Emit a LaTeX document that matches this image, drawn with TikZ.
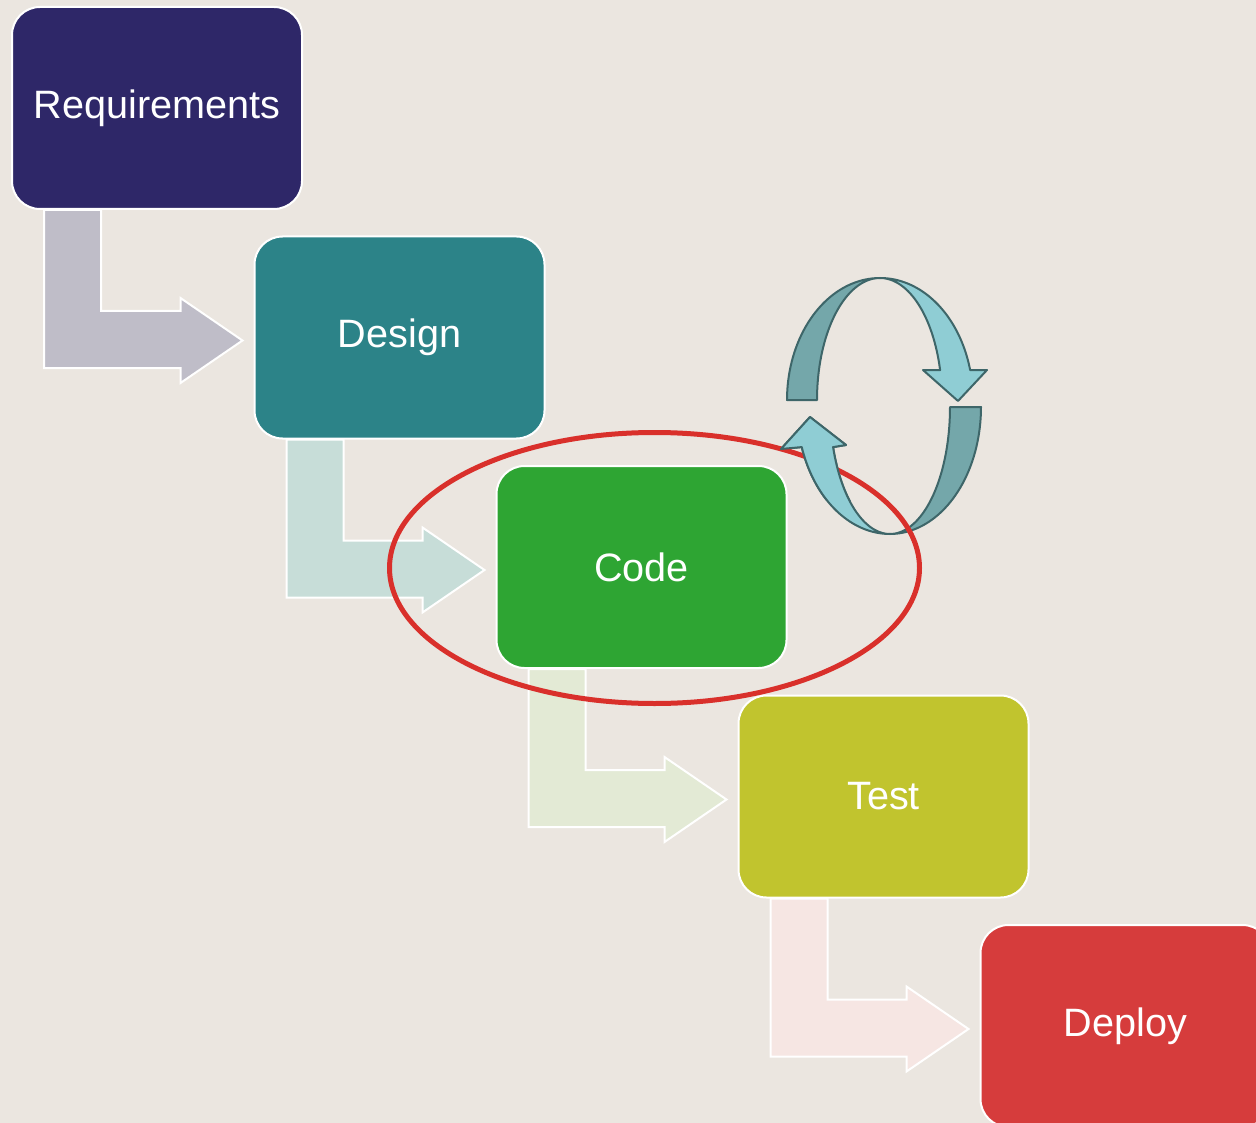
\documentclass[tikz,border=0pt]{standalone}
\usepackage{fontspec}
\setmainfont{Liberation Sans}
\usetikzlibrary{calc}
\definecolor{paper}{HTML}{EBE6E0}
\definecolor{reqc}{HTML}{2E2768}
\definecolor{desc}{HTML}{2C8388}
\definecolor{codec}{HTML}{2EA533}
\definecolor{testc}{HTML}{C1C42E}
\definecolor{depc}{HTML}{D63C3C}
\definecolor{flowA}{HTML}{BFBDC8}
\definecolor{flowB}{HTML}{C7DDD8}
\definecolor{flowC}{HTML}{E3EAD5}
\definecolor{flowD}{HTML}{F6E6E3}
\definecolor{ringedge}{HTML}{3E6669}
\definecolor{ringdark}{HTML}{74A7AA}
\definecolor{ringlight}{HTML}{8FCDD4}
\definecolor{focus}{HTML}{D9302B}
\pgfdeclarelayer{back}
\pgfdeclarelayer{flow}
\pgfsetlayers{back,flow,main}
% bent block arrow from the foot of one stage to the side of the next
\newcommand\flowstep[3]{%
  \draw[white, line width=2pt, fill=#3, line join=miter]
    ($(#1.south west)+(33,0)$) -- ($(#1.south west)+(90,0)$)
    |- ($(#2.west)+(-73,-26.5)$) -- ($(#2.west)+(-73,-39.5)$)
    -- ($(#2.west)+(-11,3)$) -- ($(#2.west)+(-73,45.5)$)
    -- ($(#2.west)+(-73,30.5)$) -| ($(#1.south west)+(33,0)$) -- cycle;}
% lower loop arrow, light part with its head
\newcommand\loopheadB{%
  \filldraw[ring, fill=ringlight]
    plot[domain=-90:-161.6, samples=40] ({890+93*cos(\x)},{407-127*sin(\x)})
    -- (781,449) -- (810,417) -- (846,445)
    -- plot[domain=-161.6:-90, samples=40] ({890+60*cos(\x)},{407-127*sin(\x)})
    -- cycle;}
\begin{document}
\begin{tikzpicture}[x=1pt, y=-1pt,
  stage/.style={draw=white, line width=2pt, rounded corners=28pt,
    minimum width=290pt, minimum height=202pt, inner sep=0pt,
    text=white, font=\fontsize{39.6}{47}\selectfont},
  ring/.style={draw=ringedge, line width=2pt, line join=round}]
\begin{pgfonlayer}{back}
  \fill[paper] (0,0) rectangle (1256,1123);
\end{pgfonlayer}
\useasboundingbox (0,0) rectangle (1256,1123);

% stages
\node[stage, fill=reqc]  (req)  at (157,108)    {Requirements};
\node[stage, fill=desc]  (des)  at (399.5,337.5) {Design};
\node[stage, fill=codec] (code) at (641.5,567)  {Code};
\node[stage, fill=testc] (test) at (883.5,796.5) {Test};
\node[stage, fill=depc]  (dep)  at (1125.5,1026) {Deploy};

% flow arrows between stages
\begin{pgfonlayer}{flow}
  \flowstep{req}{des}{flowA}
  \flowstep{des}{code}{flowB}
  \flowstep{code}{test}{flowC}
  \flowstep{test}{dep}{flowD}
\end{pgfonlayer}

% iteration loop: upper arrow
\filldraw[ring, fill=ringdark]
  plot[domain=180:90, samples=40] ({880+93*cos(\x)},{400-122*sin(\x)})
  -- plot[domain=90:180, samples=40] ({880+63*cos(\x)},{400-122*sin(\x)})
  -- cycle;
\filldraw[ring, fill=ringlight]
  plot[domain=90:14.2, samples=40] ({880+93*cos(\x)},{400-122*sin(\x)})
  -- (987,370) -- (958,401) -- (923,370)
  -- plot[domain=14.2:90, samples=40] ({880+62*cos(\x)},{400-122*sin(\x)})
  -- cycle;
% iteration loop: lower arrow
\filldraw[ring, fill=ringdark]
  plot[domain=0:-90, samples=40] ({890+91*cos(\x)},{407-127*sin(\x)})
  -- plot[domain=-90:0, samples=40] ({890+60*cos(\x)},{407-127*sin(\x)})
  -- cycle;
\loopheadB

% focus ring round the coding stage
\draw[focus, line width=5pt] (654.5,568) ellipse [x radius=265, y radius=135.5];

% the head of the lower loop arrow lies over the focus ring
\begin{scope}
  \clip (760,395) rectangle (872,500);
  \loopheadB
\end{scope}
\end{tikzpicture}
\end{document}
